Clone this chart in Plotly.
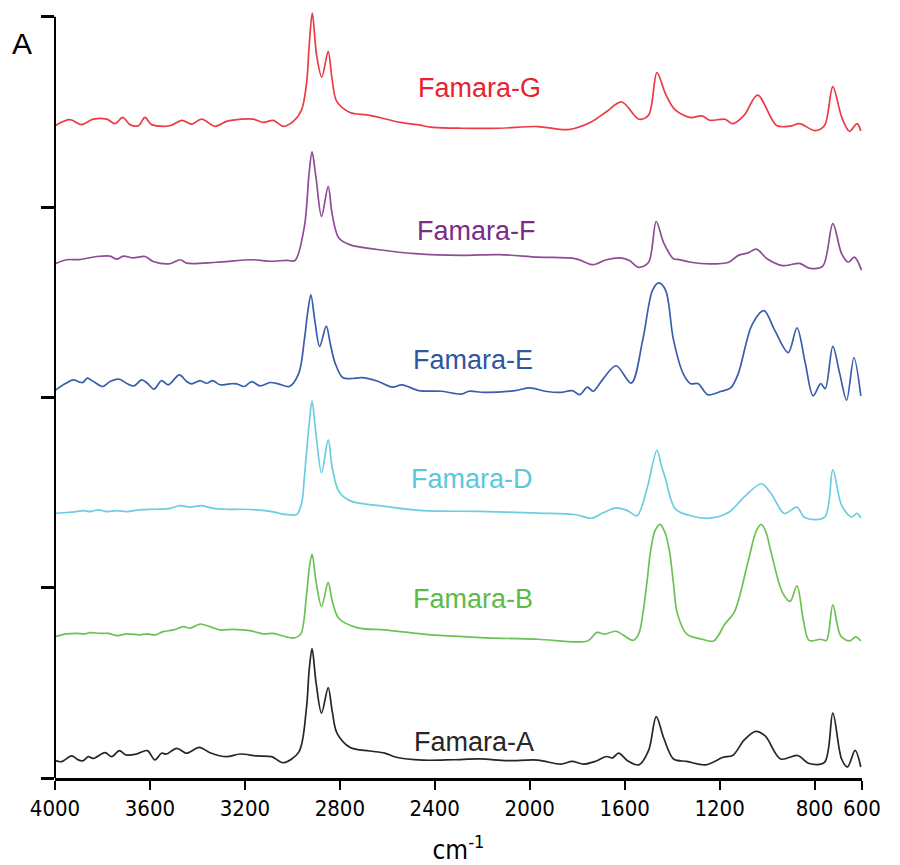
import plotly.graph_objects as go

# ---- data: (wavenumber cm^-1, stacked absorbance) ----
FAMARA_G = [
    (4000, 3.427), (3937, 3.459), (3888, 3.433), (3839, 3.462), (3782, 3.462), (3747, 3.438),
    (3715, 3.471), (3684, 3.433), (3649, 3.427), (3621, 3.471), (3593, 3.433), (3516, 3.427),
    (3466, 3.455), (3424, 3.436), (3382, 3.462), (3326, 3.424), (3277, 3.450), (3213, 3.462),
    (3165, 3.462), (3122, 3.445), (3080, 3.455), (3038, 3.424), (2996, 3.450), (2961, 3.511),
    (2940, 3.651), (2929, 3.850), (2916, 4.019), (2898, 3.800), (2876, 3.683), (2849, 3.818),
    (2834, 3.686), (2813, 3.555), (2757, 3.497), (2687, 3.484), (2624, 3.468), (2546, 3.445),
    (2462, 3.430), (2417, 3.420), (2289, 3.414), (2128, 3.414), (1966, 3.423), (1838, 3.407),
    (1741, 3.447), (1677, 3.501), (1612, 3.552), (1540, 3.461), (1499, 3.483), (1464, 3.706),
    (1427, 3.592), (1387, 3.510), (1322, 3.470), (1274, 3.479), (1242, 3.456), (1177, 3.461),
    (1145, 3.438), (1096, 3.483), (1040, 3.588), (960, 3.428), (903, 3.425), (863, 3.438),
    (798, 3.401), (758, 3.428), (723, 3.633), (686, 3.474), (653, 3.398), (621, 3.438),
    (605, 3.400),
]

FAMARA_F = [
    (4000, 2.702), (3951, 2.723), (3895, 2.724), (3824, 2.740), (3768, 2.742), (3740, 2.726),
    (3712, 2.742), (3670, 2.733), (3621, 2.740), (3586, 2.714), (3516, 2.702), (3473, 2.723),
    (3445, 2.705), (3319, 2.710), (3165, 2.723), (3094, 2.715), (3024, 2.720), (2989, 2.719),
    (2949, 2.900), (2930, 3.170), (2917, 3.290), (2900, 3.150), (2877, 2.951), (2849, 3.109),
    (2832, 2.960), (2804, 2.837), (2756, 2.801), (2643, 2.777), (2482, 2.755), (2289, 2.746),
    (2128, 2.750), (1966, 2.737), (1805, 2.728), (1733, 2.697), (1677, 2.723), (1612, 2.732),
    (1580, 2.719), (1540, 2.683), (1499, 2.710), (1467, 2.924), (1435, 2.810), (1394, 2.728),
    (1370, 2.724), (1322, 2.710), (1242, 2.701), (1161, 2.710), (1121, 2.746), (1080, 2.759),
    (1045, 2.779), (1000, 2.728), (935, 2.692), (863, 2.704), (823, 2.679), (766, 2.688),
    (723, 2.913), (686, 2.755), (658, 2.710), (632, 2.737), (602, 2.668),
]

FAMARA_E = [
    (4000, 2.036), (3958, 2.071), (3923, 2.092), (3902, 2.083), (3883, 2.078), (3864, 2.101),
    (3838, 2.083), (3799, 2.057), (3768, 2.083), (3729, 2.095), (3695, 2.071), (3667, 2.060),
    (3635, 2.092), (3611, 2.074), (3583, 2.043), (3551, 2.088), (3523, 2.066), (3476, 2.118),
    (3445, 2.083), (3424, 2.071), (3389, 2.088), (3361, 2.074), (3336, 2.088), (3305, 2.066),
    (3263, 2.071), (3235, 2.071), (3204, 2.057), (3171, 2.083), (3136, 2.060), (3094, 2.078),
    (3059, 2.071), (3013, 2.057), (2973, 2.126), (2949, 2.307), (2935, 2.450), (2922, 2.539),
    (2905, 2.400), (2885, 2.268), (2857, 2.374), (2840, 2.280), (2820, 2.180), (2788, 2.104),
    (2748, 2.099), (2707, 2.104), (2643, 2.086), (2579, 2.054), (2538, 2.066), (2466, 2.035),
    (2369, 2.032), (2289, 2.017), (2256, 2.032), (2192, 2.026), (2063, 2.035), (1999, 2.050),
    (1934, 2.032), (1870, 2.026), (1821, 2.035), (1789, 2.014), (1757, 2.054), (1733, 2.032),
    (1693, 2.093), (1636, 2.166), (1572, 2.075), (1523, 2.307), (1483, 2.561), (1456, 2.601),
    (1427, 2.561), (1395, 2.307), (1354, 2.126), (1322, 2.072), (1290, 2.072), (1250, 2.014),
    (1193, 2.032), (1153, 2.050), (1121, 2.126), (1064, 2.380), (1013, 2.456), (968, 2.353),
    (911, 2.235), (874, 2.365), (839, 2.180), (806, 2.008), (774, 2.072), (755, 2.045),
    (723, 2.268), (694, 2.126), (665, 1.985), (634, 2.208), (605, 2.008),
]

FAMARA_D = [
    (4000, 1.391), (3951, 1.395), (3909, 1.400), (3881, 1.405), (3853, 1.400), (3817, 1.409),
    (3782, 1.400), (3740, 1.405), (3698, 1.400), (3642, 1.409), (3572, 1.412), (3515, 1.417),
    (3473, 1.431), (3431, 1.423), (3382, 1.431), (3333, 1.417), (3277, 1.412), (3221, 1.412),
    (3150, 1.409), (3080, 1.398), (3030, 1.385), (2981, 1.385), (2960, 1.450), (2949, 1.586),
    (2930, 1.850), (2917, 1.980), (2900, 1.800), (2877, 1.604), (2849, 1.777), (2832, 1.630),
    (2804, 1.505), (2756, 1.456), (2643, 1.432), (2450, 1.405), (2208, 1.401), (1966, 1.392),
    (1805, 1.383), (1741, 1.365), (1693, 1.392), (1636, 1.419), (1588, 1.405), (1548, 1.378),
    (1507, 1.514), (1464, 1.722), (1445, 1.640), (1427, 1.568), (1387, 1.414), (1322, 1.378),
    (1242, 1.365), (1161, 1.396), (1096, 1.477), (1024, 1.546), (984, 1.496), (927, 1.390),
    (874, 1.423), (842, 1.369), (758, 1.369), (723, 1.619), (686, 1.432), (645, 1.372),
    (621, 1.390), (605, 1.365),
]

FAMARA_B = [
    (4000, 0.743), (3951, 0.757), (3909, 0.760), (3874, 0.757), (3853, 0.764), (3810, 0.760),
    (3775, 0.760), (3737, 0.748), (3698, 0.757), (3642, 0.752), (3614, 0.757), (3579, 0.752),
    (3544, 0.769), (3501, 0.778), (3459, 0.795), (3431, 0.787), (3389, 0.809), (3347, 0.795),
    (3305, 0.778), (3249, 0.781), (3178, 0.774), (3122, 0.757), (3080, 0.760), (3038, 0.746),
    (2997, 0.735), (2965, 0.756), (2941, 0.955), (2929, 1.100), (2917, 1.177), (2900, 1.030),
    (2877, 0.901), (2849, 1.028), (2832, 0.930), (2804, 0.838), (2724, 0.789), (2611, 0.778),
    (2450, 0.756), (2208, 0.738), (1966, 0.729), (1757, 0.720), (1717, 0.765), (1684, 0.756),
    (1636, 0.771), (1564, 0.723), (1540, 0.760), (1523, 0.865), (1505, 1.040), (1491, 1.191),
    (1472, 1.300), (1451, 1.333), (1430, 1.290), (1411, 1.191), (1395, 1.030), (1378, 0.865),
    (1338, 0.756), (1274, 0.729), (1225, 0.720), (1177, 0.810), (1137, 0.874), (1080, 1.137),
    (1045, 1.300), (1024, 1.333), (1004, 1.290), (984, 1.191), (935, 0.974), (903, 0.928),
    (874, 1.010), (847, 0.829), (823, 0.723), (774, 0.729), (750, 0.723), (723, 0.910),
    (690, 0.747), (653, 0.720), (626, 0.741), (605, 0.720),
]

FAMARA_A = [
    (4000, 0.091), (3972, 0.086), (3930, 0.116), (3902, 0.095), (3881, 0.091), (3860, 0.112),
    (3839, 0.103), (3789, 0.133), (3761, 0.112), (3729, 0.144), (3701, 0.121), (3656, 0.126),
    (3611, 0.144), (3579, 0.095), (3551, 0.130), (3530, 0.126), (3487, 0.156), (3445, 0.130),
    (3392, 0.161), (3347, 0.133), (3277, 0.112), (3221, 0.126), (3150, 0.116), (3087, 0.112),
    (3038, 0.080), (2973, 0.136), (2941, 0.363), (2929, 0.570), (2917, 0.680), (2900, 0.500),
    (2877, 0.341), (2849, 0.475), (2832, 0.350), (2812, 0.236), (2756, 0.160), (2675, 0.142),
    (2611, 0.131), (2562, 0.109), (2450, 0.094), (2321, 0.096), (2208, 0.100), (2095, 0.091),
    (1966, 0.094), (1870, 0.073), (1821, 0.087), (1773, 0.073), (1725, 0.087), (1676, 0.113),
    (1652, 0.105), (1625, 0.131), (1588, 0.091), (1540, 0.069), (1499, 0.145), (1467, 0.323),
    (1435, 0.209), (1394, 0.100), (1338, 0.087), (1258, 0.069), (1185, 0.109), (1145, 0.118),
    (1096, 0.200), (1048, 0.245), (1008, 0.221), (943, 0.100), (871, 0.118), (823, 0.076),
    (758, 0.082), (723, 0.341), (686, 0.100), (661, 0.058), (629, 0.145), (605, 0.058),
]

SERIES_NAMES = ["Famara-G", "Famara-F", "Famara-E", "Famara-D", "Famara-B", "Famara-A"]
SERIES_DATA = [FAMARA_G, FAMARA_F, FAMARA_E, FAMARA_D, FAMARA_B, FAMARA_A]
LINE_COLORS = ["#EE3A44", "#8E4C96", "#3A5EAC", "#6ACDE0", "#6CC155", "#262626"]
TEXT_COLORS = ["#E8232D", "#7B2C84", "#2F55A4", "#5CC6DC", "#5CBB46", "#262626"]
# label anchor positions (wavenumber, stacked absorbance)
LABEL_WN = [2210, 2226, 2239, 2243, 2239, 2235]
LABEL_ABS = [3.627, 2.875, 2.197, 1.572, 0.941, 0.189]

X_TICKS = [4000, 3600, 3200, 2800, 2400, 2000, 1600, 1200, 800, 600]
Y_TICKS = [0, 1, 2, 3, 4]

fig = go.Figure()
for name, data, col in zip(SERIES_NAMES, SERIES_DATA, LINE_COLORS):
    wn = [p[0] for p in data]
    ab = [p[1] for p in data]
    fig.add_trace(go.Scatter(
        x=wn, y=ab, mode="lines", name=name,
        line=dict(color=col, width=1.7, shape="spline", smoothing=0.9),
        showlegend=False, hoverinfo="skip",
    ))

for name, wx, ay, tc in zip(SERIES_NAMES, LABEL_WN, LABEL_ABS, TEXT_COLORS):
    fig.add_annotation(x=wx, y=ay, xref="x", yref="y", text=name, showarrow=False,
                       font=dict(family="Liberation Sans, Arial, sans-serif", size=27, color=tc),
                       xanchor="center", yanchor="middle")

fig.add_annotation(x=-0.041, y=0.958, xref="paper", yref="paper", text="A", showarrow=False,
                   font=dict(family="Liberation Sans, Arial, sans-serif", size=30, color="black"),
                   xanchor="center", yanchor="middle")

# y axis line from 0 to top tick only
fig.add_shape(type="line", xref="paper", yref="y", x0=0, x1=0, y0=0, y1=4,
              line=dict(color="black", width=2))

NARROW = "Liberation Sans Narrow, Arial Narrow, DejaVu Sans Condensed, sans-serif"
fig.update_xaxes(
    range=[4000, 600], tickvals=X_TICKS, ticktext=[str(t) for t in X_TICKS],
    showline=True, linecolor="black", linewidth=2.5, ticks="outside", ticklen=9, tickwidth=2,
    tickcolor="black", showgrid=False, zeroline=False,
    tickfont=dict(family=NARROW, size=22, color="black"),
    title=dict(text="cm<sup>-1</sup>", font=dict(family=NARROW, size=26, color="black"), standoff=22),
)
fig.update_yaxes(
    range=[0, 4.03], tickvals=Y_TICKS, showticklabels=False, showline=False,
    ticks="outside", ticklen=13, tickwidth=2.5, tickcolor="black", showgrid=False, zeroline=False,
)
# page body has an 8 px margin: size/margins chosen so the plot area sits at
# x 55..862 and y 11..778 in the 900x865 window
fig.update_layout(
    width=892, height=857, autosize=False,
    margin=dict(l=47, r=38, t=3, b=87),
    plot_bgcolor="white", paper_bgcolor="white",
)
fig.write_html("out.html")
